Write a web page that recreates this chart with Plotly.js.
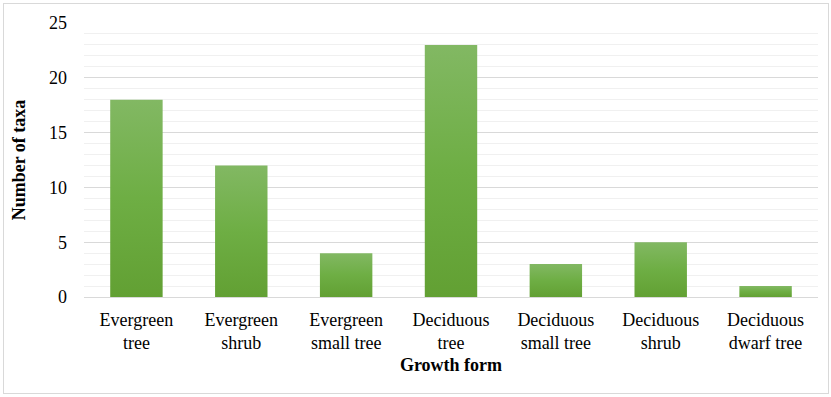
<!DOCTYPE html>
<html>
<head>
<meta charset="utf-8">
<script src="https://cdn.plot.ly/plotly-3.0.1.min.js"></script>
<style>
html,body{margin:0;padding:0;background:#fff;}
#chart{width:831px;height:397px;position:relative;}
#frame{position:absolute;left:3px;top:3px;width:824px;height:389px;border:1px solid #d9d9d9;pointer-events:none;}
</style>
</head>
<body>
<div id="chart"></div>
<div id="frame"></div>
<script>
var categories = ["Evergreen<br>tree", "Evergreen<br>shrub", "Evergreen<br>small tree", "Deciduous<br>tree", "Deciduous<br>small tree", "Deciduous<br>shrub", "Deciduous<br>dwarf tree"];
var taxaCounts = [18, 12, 4, 23, 3, 5, 1];
var yTickValues = [0, 5, 10, 15, 20, 25];

var trace = {
  type: 'bar',
  x: categories,
  y: taxaCounts,
  width: 0.5,
  marker: {color: '#6dab44', line: {width: 0}}
};

var layout = {
  width: 831,
  height: 397,
  margin: {l: 84, r: 13, t: 23, b: 100},
  paper_bgcolor: 'rgba(0,0,0,0)',
  plot_bgcolor: '#fff',
  showlegend: false,
  font: {family: 'Liberation Serif', size: 18, color: '#000'},
  xaxis: {
    type: 'category',
    showgrid: false,
    showline: true,
    linecolor: '#d9d9d9',
    linewidth: 1,
    ticks: '',
    ticklabelstandoff: 6,
    title: {text: '<b>Growth form</b>', font: {size: 18}, standoff: 6}
  },
  yaxis: {
    range: [0, 25],
    tickvals: yTickValues,
    showgrid: true,
    gridcolor: '#d9d9d9',
    gridwidth: 1,
    zeroline: false,
    showline: false,
    ticks: '',
    ticklabelstandoff: 16,
    minor: {dtick: 1, showgrid: true, gridcolor: '#f0f0f0', gridwidth: 1, ticks: ''},
    title: {text: '<b>Number of taxa</b>', font: {size: 18}, standoff: 18}
  }
};

function forceSerif(gd) {
  gd.querySelectorAll('text, tspan').forEach(function(t){
    t.style.setProperty('font-family', "'Liberation Serif', 'Times New Roman', serif", 'important');
    t.setAttribute('font-family', "'Liberation Serif', 'Times New Roman', serif");
  });
}

Plotly.newPlot('chart', [trace], layout, {displayModeBar: false}).then(function(gd){
  var svg = gd.querySelector('svg.main-svg');
  var ns = 'http://www.w3.org/2000/svg';
  var defs = svg.querySelector('defs') || svg.insertBefore(document.createElementNS(ns,'defs'), svg.firstChild);
  var grad = document.createElementNS(ns, 'linearGradient');
  grad.setAttribute('id', 'barGrad');
  grad.setAttribute('x1', '0'); grad.setAttribute('y1', '0');
  grad.setAttribute('x2', '0'); grad.setAttribute('y2', '1');
  [['0', '#82b863'], ['0.5', '#6eae44'], ['1', '#62a033']].forEach(function(s){
    var st = document.createElementNS(ns, 'stop');
    st.setAttribute('offset', s[0]);
    st.setAttribute('stop-color', s[1]);
    grad.appendChild(st);
  });
  defs.appendChild(grad);
  gd.querySelectorAll('.bars .point path').forEach(function(p){
    p.style.fill = 'url(#barGrad)';
  });
  forceSerif(gd);
});
</script>
</body>
</html>
